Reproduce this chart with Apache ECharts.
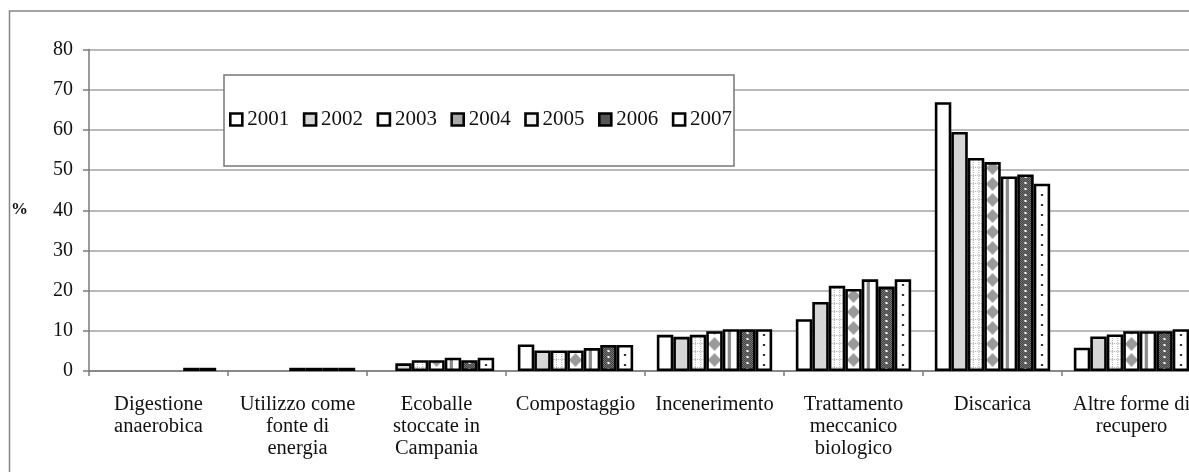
<!DOCTYPE html>
<html>
<head>
<meta charset="utf-8">
<script src="https://cdn.jsdelivr.net/npm/echarts@6/dist/echarts.min.js"></script>
<style>
html,body{margin:0;padding:0;background:#fff;}
#chart{width:1189px;height:472px;}
</style>
</head>
<body>
<div id="chart"></div>
<script>
// ---- data ----
const categories = ['Digestione\nanaerobica', 'Utilizzo come\nfonte di\nenergia', 'Ecoballe\nstoccate in\nCampania', 'Compostaggio', 'Incenerimento', 'Trattamento\nmeccanico\nbiologico', 'Discarica', 'Altre forme di\nrecupero'];
const years = ['2001', '2002', '2003', '2004', '2005', '2006', '2007'];
const v2001 = [null, null, null, 6.6, 9.0, 12.9, 66.9, 5.8];
const v2002 = [null, null, 1.9, 5.1, 8.5, 17.2, 59.5, 8.6];
const v2003 = [null, null, 2.7, 5.1, 9.0, 21.2, 53.0, 9.1];
const v2004 = [null, 0.8, 2.7, 5.1, 9.9, 20.4, 52.0, 9.9];
const v2005 = [null, 0.8, 3.3, 5.7, 10.4, 22.8, 48.4, 9.9];
const v2006 = [0.8, 0.8, 2.7, 6.5, 10.4, 21.0, 48.9, 9.9];
const v2007 = [0.8, 0.8, 3.3, 6.5, 10.4, 22.8, 46.6, 10.4];
const yTicks = { min: 0, max: 80, interval: 10 };

// ---- layout / style constants ----
const GRID_LEFT = 89, GRID_WIDTH = 1112, CAT_GAP = 0.17;
const catW = GRID_WIDTH / categories.length;
const barW = catW * (1 - CAT_GAP) / years.length;
const period = catW / 8;           // pattern period that repeats exactly every category
function barCentre(i) { return GRID_LEFT + catW * CAT_GAP / 2 + barW * (i + 0.5); }

// fill patterns aligned to each bar column
function pat(i, w, h, draw) {
  const c = document.createElement('canvas');
  c.width = w; c.height = h;
  const g = c.getContext('2d');
  g.fillStyle = '#ffffff'; g.fillRect(0, 0, w, h);
  draw(g);
  const sx = period / w;
  return { image: c, repeat: 'repeat', scaleX: sx, scaleY: 1, x: barCentre(i) - (w / 2) * sx, y: 0 };
}
const fills = [
  '#ffffff',
  '#d6d6d6',
  pat(2, 16, 8, g => { g.fillStyle = '#b0b0b0'; for (let y = 0; y < 8; y += 2) { g.fillRect(5, y, 1, 1); g.fillRect(10, y, 1, 1); } for (let x = 1; x < 16; x += 2) g.fillRect(x, 7, 1, 1); }),
  pat(3, 16, 16, g => { g.fillStyle = '#9a9a9a'; g.beginPath(); g.moveTo(8, 1); g.lineTo(14, 8); g.lineTo(8, 15); g.lineTo(2, 8); g.closePath(); g.fill(); }),
  pat(4, 16, 1, g => { g.fillStyle = '#8a8a8a'; g.fillRect(5, 0, 3, 1); }),
  pat(5, 16, 6, g => { for (let y = 0; y < 6; y++) for (let x = 0; x < 16; x++) { g.fillStyle = ((x + y) % 2) ? '#2a2a2a' : '#8a8a8a'; g.fillRect(x, y, 1, 1); } g.fillStyle = '#ffffff'; g.fillRect(7, 2, 2, 2); }),
  pat(6, 16, 10, g => { g.fillStyle = '#333333'; g.fillRect(7, 4, 2, 2); })
];
const legendFills = ['#ffffff', '#d6d6d6', '#ffffff', '#a8a8a8', '#f0f0f0', '#555555', '#ffffff'];
const values = [v2001, v2002, v2003, v2004, v2005, v2006, v2007];
const serif = "'Liberation Serif', 'Times New Roman', serif";

const series = years.map((y, i) => ({
  name: y,
  type: 'bar',
  data: values[i],
  barGap: '0%',
  barCategoryGap: (CAT_GAP * 100) + '%',
  itemStyle: { color: fills[i], borderColor: '#000', borderWidth: 2.6 },
  emphasis: { disabled: true }
}));

const chart = echarts.init(document.getElementById('chart'), null, { renderer: 'canvas' });
chart.setOption({
  animation: false,
  backgroundColor: '#ffffff',
  grid: { left: GRID_LEFT, top: 49.5, width: GRID_WIDTH, bottom: 101, containLabel: false, outerBoundsMode: 'none' },
  xAxis: {
    type: 'category',
    data: categories,
    axisLine: { lineStyle: { color: '#7a7a7a', width: 1.5 } },
    axisTick: { show: true, length: 5, alignWithLabel: false, lineStyle: { color: '#7a7a7a', width: 1.5 } },
    axisLabel: { interval: 0, margin: 23, color: '#111', fontFamily: serif, fontSize: 20.5, lineHeight: 22, align: 'center' }
  },
  yAxis: {
    type: 'value',
    min: yTicks.min, max: yTicks.max, interval: yTicks.interval,
    axisLine: { show: true, lineStyle: { color: '#7a7a7a', width: 1.5 } },
    axisTick: { show: true, length: 6, lineStyle: { color: '#7a7a7a', width: 1.5 } },
    axisLabel: { margin: 16, color: '#111', fontFamily: serif, fontSize: 20, padding: [0, 0, 4, 0] },
    splitLine: { show: true, lineStyle: { color: '#a3a3a3', width: 1.5 } }
  },
  legend: {
    z: 5,
    left: 229, top: 109,
    padding: 0,
    itemWidth: 12, itemHeight: 12,
    itemGap: 13.5,
    icon: 'rect',
    textStyle: { fontFamily: serif, fontSize: 21, color: '#111', padding: [2, 0, 0, 0] },
    data: years.map((y, i) => ({ name: y, itemStyle: { color: legendFills[i], borderColor: '#000', borderWidth: 2.6 } }))
  },
  graphic: [
    { type: 'rect', z: 1, silent: true, shape: { x: 9.5, y: 11, width: 1300, height: 600 }, style: { fill: 'none', stroke: '#858585', lineWidth: 1.5 } },
    { type: 'rect', z: 4, silent: true, shape: { x: 224, y: 75, width: 510, height: 91 }, style: { fill: '#ffffff', stroke: '#777777', lineWidth: 1.5 } },
    { type: 'text', z: 4, silent: true, left: 11, top: 201, style: { text: '%', font: 'bold 17px ' + serif, fill: '#111' } }
  ],
  series: series
});
</script>
</body>
</html>
